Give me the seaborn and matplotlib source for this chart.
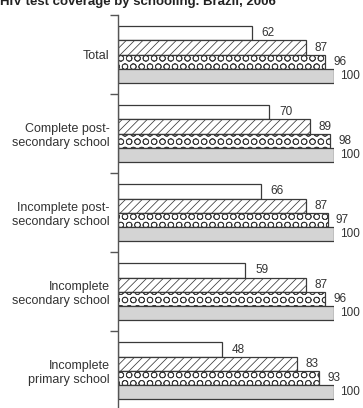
import numpy as np
import pandas as pd
import seaborn as sns
import matplotlib.pyplot as plt

groups = ["Total", "Complete post-\nsecondary school", "Incomplete post-\nsecondary school",
          "Incomplete\nsecondary school", "Incomplete\nprimary school"]
series = ["s1", "s2", "s3", "s4"]
s1 = [62, 70, 66, 59, 48]
s2 = [87, 89, 87, 87, 83]
s3 = [96, 98, 97, 96, 93]
s4 = [100, 100, 100, 100, 100]

df = pd.DataFrame({
    "group": groups * 4,
    "serie": sum([[s] * len(groups) for s in series], []),
    "value": s1 + s2 + s3 + s4,
})

sns.set_style("white")
plt.rcParams['font.family'] = ['Liberation Sans', 'DejaVu Sans']
plt.rcParams['hatch.linewidth'] = 0.55
plt.rcParams['hatch.color'] = '#3a3a3a'

fig = plt.figure(figsize=(3.63, 4.08), dpi=100)
ax = fig.add_axes([118/363, -0.006, 216/363, 0.969])

sns.barplot(data=df, y="group", x="value", hue="serie", orient="h",
            width=0.72, legend=False, ax=ax, saturation=1)

fills = ['#ffffff', '#ffffff', '#ffffff', '#d4d4d4']
hatches = [None, '////', 'OO', None]
pads = [7, 6, 6, 4]
for cont, fc, h, pd_ in zip(ax.containers, fills, hatches, pads):
    for p in cont:
        p.set_facecolor(fc)
        p.set_edgecolor('#3a3a3a')
        p.set_linewidth(0.9)
        if h:
            p.set_hatch(h)
    ax.bar_label(cont, padding=pd_, fontsize=8.5, color='#333333')

ax.set_xlim(0, 100)
ax.set_ylim(len(groups) - 0.5, -0.5)
ax.set_xlabel("")
ax.set_ylabel("")
ax.set_xticks([])
ax.set_yticks(np.arange(len(groups)))
ax.set_yticklabels(groups, fontsize=9, color='#333333', ha='right', multialignment='right')
ax.set_yticks(np.arange(len(groups)) - 0.5, minor=True)
ax.tick_params(axis='y', which='major', length=0, pad=6)
ax.tick_params(axis='y', which='minor', length=6, width=1, color='#555555', left=True)
for s in ['top', 'right', 'bottom']:
    ax.spines[s].set_visible(False)
ax.spines['left'].set_color('#555555')
ax.spines['left'].set_linewidth(1)

fig.text(0.0, 1 - 5/408, "HIV test coverage by schooling. Brazil, 2006",
         fontsize=9.5, fontweight='bold', color='#222222', va='baseline')

fig.savefig("out.png", dpi=100)
